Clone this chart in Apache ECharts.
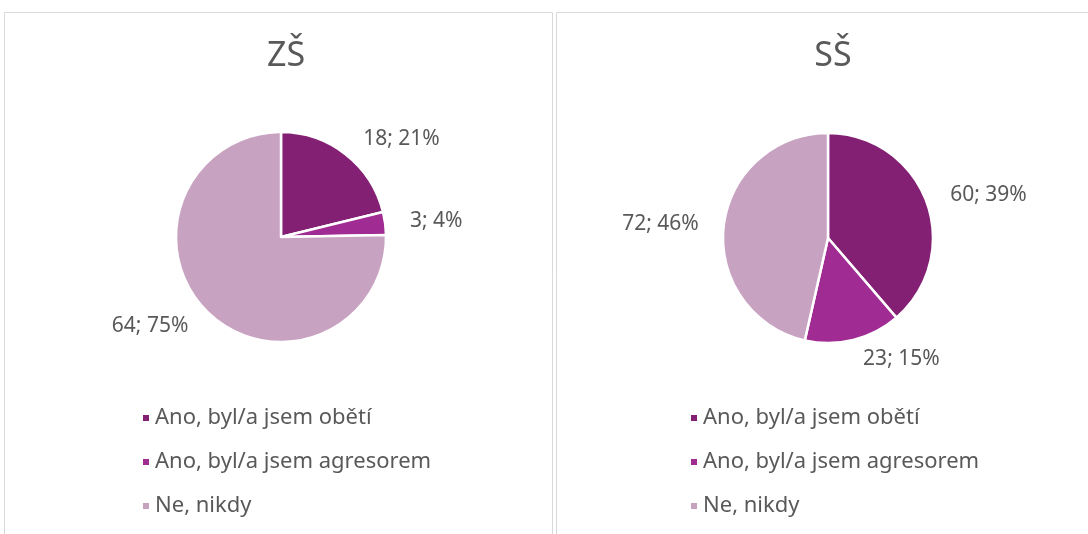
<!DOCTYPE html>
<html>
<head>
<meta charset="utf-8" />
<title>ZŠ / SŠ</title>
<script src="https://cdn.jsdelivr.net/npm/echarts@6/dist/echarts.min.js"></script>
<style>
  html, body { margin: 0; padding: 0; background: #fff; }
  #main { width: 1088px; height: 534px; }
</style>
</head>
<body>
<div id="main"></div>
<script>
// data
var categories = ['Ano, byl/a jsem obětí', 'Ano, byl/a jsem agresorem', 'Ne, nikdy'];
var zsValues = [18, 3, 64];
var ssValues = [60, 23, 72];
var titles = ['ZŠ', 'SŠ'];
var colors = ['#832073', '#A02B93', '#C8A2C1'];

var textColor = '#595959';
var font = 'Noto Sans';

function pieData(values) {
  return values.map(function (v, i) {
    return { name: categories[i], value: v };
  });
}

function pieSeries(values, center) {
  return {
    type: 'pie',
    center: center,
    radius: 105,
    startAngle: 90,
    clockwise: true,
    avoidLabelOverlap: false,
    itemStyle: { borderColor: '#fff', borderWidth: 2.5 },
    label: {
      show: true,
      position: 'outside',
      color: textColor,
      fontFamily: font,
      fontSize: 21,
      formatter: function (p) {
        return p.value + '; ' + Math.round(p.percent) + '%';
      }
    },
    labelLine: { show: false, length: 20, length2: 0 },
    emphasis: { disabled: true },
    data: pieData(values)
  };
}

function legend(left) {
  return {
    orient: 'vertical',
    left: left,
    top: 402,
    icon: 'rect',
    itemWidth: 8,
    itemHeight: 8,
    itemGap: 22,
    textStyle: { color: textColor, fontFamily: font, fontSize: 22, lineHeight: 22 },
    data: categories
  };
}

var chart = echarts.init(document.getElementById('main'));
chart.setOption({
  color: colors,
  animation: false,
  title: [
    { text: titles[0], left: 281, top: 34, textAlign: 'center',
      textStyle: { color: textColor, fontFamily: font, fontWeight: 'normal', fontSize: 34 } },
    { text: titles[1], left: 828, top: 34, textAlign: 'center',
      textStyle: { color: textColor, fontFamily: font, fontWeight: 'normal', fontSize: 34 } }
  ],
  legend: [legend(136), legend(684)],
  graphic: [
    { type: 'rect', shape: { x: 4.5, y: 12.5, width: 548, height: 540 },
      style: { fill: 'none', stroke: '#d9d9d9', lineWidth: 1 } },
    { type: 'rect', shape: { x: 556.5, y: 12.5, width: 540, height: 540 },
      style: { fill: 'none', stroke: '#d9d9d9', lineWidth: 1 } }
  ],
  series: [
    pieSeries(zsValues, [281, 237]),
    pieSeries(ssValues, [828, 238])
  ]
});

window.onresize = function () {
  chart.resize();
};
</script>
</body>
</html>
